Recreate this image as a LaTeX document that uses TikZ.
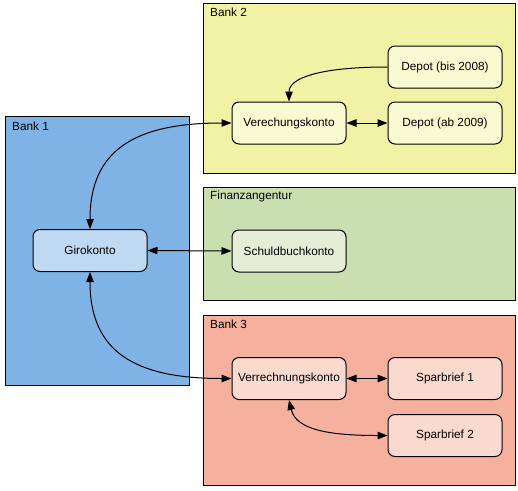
\documentclass[tikz,border=0pt]{standalone}
\usepackage{fontspec}
\setmainfont{Liberation Sans}
\usetikzlibrary{arrows.meta}
\definecolor{bankA}{HTML}{7FB2E5}
\definecolor{nodeA}{HTML}{C0D9F2}
\definecolor{bankB}{HTML}{F2F2A6}
\definecolor{nodeB}{HTML}{F9F9D2}
\definecolor{bankC}{HTML}{C9DFB0}
\definecolor{nodeC}{HTML}{E4EED7}
\definecolor{bankD}{HTML}{F5B19D}
\definecolor{nodeD}{HTML}{FAD9CF}
\tikzset{
  group/.style={draw=black, line width=1pt},
  grouplabel/.style={anchor=north west, inner sep=0pt, font=\fontsize{11.8}{13}\selectfont},
  acct/.style={draw=black, line width=1pt, rounded corners=7pt, minimum width=114pt, minimum height=42pt, inner sep=0pt, font=\fontsize{11.8}{13}\selectfont},
  conn/.style={line width=1pt, -{Triangle[length=10pt,width=7.5pt]}},
  biconn/.style={line width=1pt, {Triangle[length=10pt,width=7.5pt]}-{Triangle[length=10pt,width=7.5pt]}}
}
\begin{document}
\begin{tikzpicture}[x=1pt,y=-1pt]
\useasboundingbox[fill=white] (0,0) rectangle (518,490);
% groups
\draw[group, fill=bankA] (5,116) rectangle (189,385);
\node[grouplabel] (l1) at (12,122) {Bank 1};
\draw[group, fill=bankB] (203,3) rectangle (515,173);
\node[grouplabel] (l2) at (210,8) {Bank 2};
\draw[group, fill=bankC] (203,187) rectangle (515,300);
\node[grouplabel] (l3) at (210,191) {Finanzangentur};
\draw[group, fill=bankD] (203,315) rectangle (515,485);
\node[grouplabel] (l4) at (210,320) {Bank 3};
% nodes
\node[acct, fill=nodeA] (giro) at (90,250.5) {Girokonto};
\node[acct, fill=nodeB] (vk2) at (289,123) {Verechungskonto};
\node[acct, fill=nodeB] (dbis) at (445,67) {Depot (bis 2008)};
\node[acct, fill=nodeB] (dab) at (445,123) {Depot (ab 2009)};
\node[acct, fill=nodeC] (sbk) at (289,251) {Schuldbuchkonto};
\node[acct, fill=nodeD] (vk3) at (289,378.5) {Verrechnungskonto};
\node[acct, fill=nodeD] (sb1) at (445,378.5) {Sparbrief 1};
\node[acct, fill=nodeD] (sb2) at (445,435.5) {Sparbrief 2};
% connectors
\draw[conn] (dbis.west) .. controls (320,67) and (289,78) .. (vk2.north);
\draw[biconn] (vk2.east) -- (dab.west);
\draw[biconn] (giro.north) .. controls (90,150) and (135,123) .. (vk2.west);
\draw[biconn] (giro.east) -- (sbk.west);
\draw[biconn] (giro.south) .. controls (90,352) and (135,378.5) .. (vk3.west);
\draw[biconn] (vk3.east) -- (sb1.west);
\draw[biconn] (vk3.south) .. controls (296,430) and (330,435.5) .. (sb2.west);
\end{tikzpicture}
\end{document}
